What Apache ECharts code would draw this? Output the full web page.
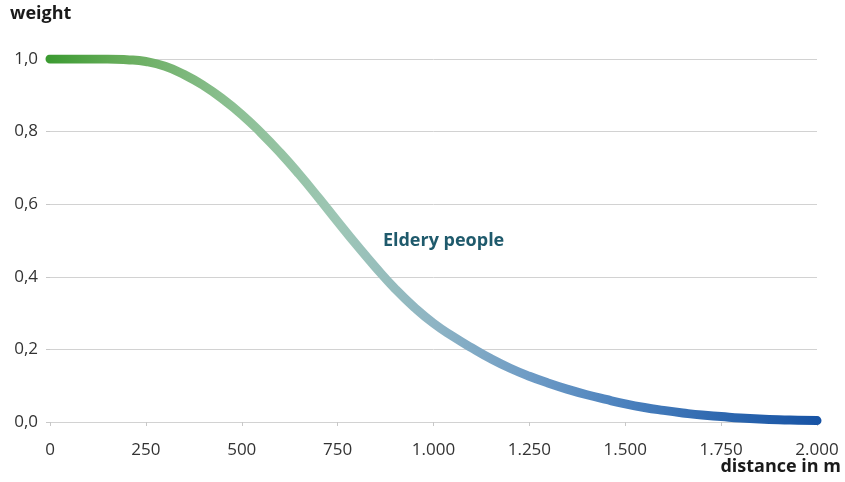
<!DOCTYPE html>
<html>
<head>
<meta charset="utf-8">
<script src="https://cdn.jsdelivr.net/npm/echarts@6/dist/echarts.min.js"></script>
<style>
html,body{margin:0;padding:0;background:#fff;}
#c{width:845px;height:482px;}
</style>
</head>
<body>
<div id="c"></div>
<script>
// Data
var distances = [0, 50, 100, 150, 200, 250, 300, 350, 400, 450, 500, 550, 600, 650, 700, 750, 800, 850, 900, 950,
                 1000, 1050, 1100, 1150, 1200, 1250, 1300, 1350, 1400, 1450, 1500, 1550, 1600, 1650, 1700, 1750, 1800, 1850, 1900, 1950, 2000];
var weights   = [1.0, 1.0, 1.0, 1.0, 0.998, 0.993, 0.980, 0.957, 0.927, 0.89, 0.847, 0.797, 0.742, 0.682, 0.618, 0.552, 0.487, 0.425, 0.367, 0.316,
                 0.272, 0.236, 0.204, 0.174, 0.148, 0.126, 0.107, 0.090, 0.075, 0.062, 0.050, 0.040, 0.032, 0.025, 0.019, 0.015, 0.011, 0.008, 0.006, 0.005, 0.004];
var xTicks = [0, 250, 500, 750, 1000, 1250, 1500, 1750, 2000];
var yTicks = [0, 0.2, 0.4, 0.6, 0.8, 1.0];
var seriesLabel = 'Eldery people';
var labelPos = [868, 0.5];

var FONT = '"Open Sans", "Noto Sans", sans-serif';
var chart = echarts.init(document.getElementById('c'));
var data = distances.map(function (d, i) { return [d, weights[i]]; });

chart.setOption({
  animation: false,
  grid: {left: 50, right: 28, top: 59, bottom: 60},
  xAxis: {
    type: 'value', min: xTicks[0], max: xTicks[xTicks.length - 1], interval: 250,
    axisLine: {show: true, lineStyle: {color: '#d2d2d2', width: 1}},
    axisTick: {show: true, length: 4, lineStyle: {color: '#c8c8c8'}},
    splitLine: {show: false},
    axisLabel: {
      margin: 20, color: '#333', fontSize: 17, fontFamily: FONT,
      formatter: function (v) { return v.toString().replace(/\B(?=(\d{3})+(?!\d))/g, '.'); }
    }
  },
  yAxis: {
    type: 'value', min: yTicks[0], max: yTicks[yTicks.length - 1], interval: 0.2,
    axisLine: {show: false},
    axisTick: {show: true, length: 4, lineStyle: {color: '#c8c8c8'}},
    splitLine: {show: true, lineStyle: {color: '#d2d2d2', width: 1}},
    axisLabel: {
      margin: 12, color: '#333', fontSize: 17, fontFamily: FONT,
      formatter: function (v) { return v.toFixed(1).replace('.', ','); }
    }
  },
  graphic: [
    {type: 'text', left: 10, top: 5, style: {text: 'weight', font: 'bold 18px ' + FONT, fill: '#1a1a1a'}},
    {type: 'text', right: 4, top: 458, style: {text: 'distance in m', font: 'bold 18px ' + FONT, fill: '#1a1a1a'}}
  ],
  series: [{
    type: 'line',
    data: data,
    smooth: 0.5,
    showSymbol: false,
    symbol: 'none',
    lineStyle: {
      width: 9,
      cap: 'round',
      join: 'round',
      color: new echarts.graphic.LinearGradient(0, 0, 1, 0, [
        {offset: 0, color: '#3a9a30'},
        {offset: 0.1, color: '#68ad5c'},
        {offset: 0.25, color: '#8ec196'},
        {offset: 0.38, color: '#9ec6b6'},
        {offset: 0.5, color: '#8eb4c4'},
        {offset: 0.62, color: '#6f9cc5'},
        {offset: 0.75, color: '#4a80bd'},
        {offset: 0.88, color: '#2c66ae'},
        {offset: 1, color: '#1753a5'}
      ])
    },
    markPoint: {
      symbol: 'circle', symbolSize: 0,
      data: [{coord: labelPos, value: seriesLabel}],
      label: {
        show: true, position: 'right', distance: 0,
        formatter: seriesLabel,
        color: '#1f5a6c', fontSize: 18, fontWeight: 'bold', fontFamily: FONT
      }
    }
  }]
});
</script>
</body>
</html>
